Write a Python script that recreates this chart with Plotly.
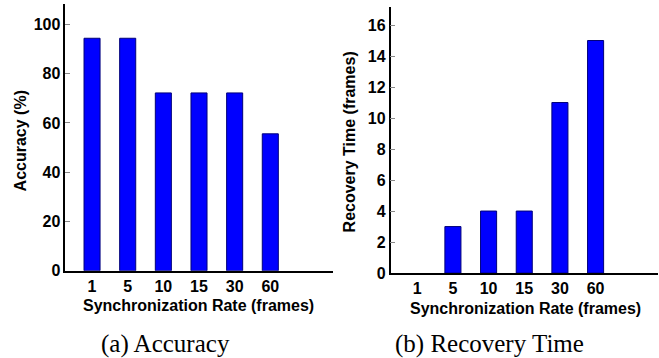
import plotly.graph_objects as go
from plotly.subplots import make_subplots

categories = ["1", "5", "10", "15", "30", "60"]
accuracy = [94.4, 94.4, 72.2, 72.2, 72.2, 55.6]
recovery = [0, 3, 4, 4, 11, 15]
acc_ticks = [0, 20, 40, 60, 80, 100]
rec_ticks = [0, 2, 4, 6, 8, 10, 12, 14, 16]

W, H = 659, 358
HR = 348  # effective rendered height used for paper-fraction placement
def px_x(a, b):
    return [a / W, b / W]
def px_y(top, bottom):
    return [(HR - bottom) / HR, min(1.0, (HR - top) / HR)]

fig = make_subplots(rows=1, cols=2)
def bars(vals):
    return dict(marker=dict(color="#0000FF",
                            line=dict(color="#00007a", width=[0 if v == 0 else 1 for v in vals])),
                showlegend=False)
fig.add_trace(go.Bar(x=categories, y=accuracy, **bars(accuracy)), row=1, col=1)
fig.add_trace(go.Bar(x=categories, y=recovery, **bars(recovery)), row=1, col=2)

font_b = dict(family="Arial, Liberation Sans, sans-serif", size=16, color="black", weight="bold")
xcommon = dict(type="category", range=[-0.75, 6.75], showline=True, linecolor="black", linewidth=1.5,
               ticks="", showgrid=False, zeroline=False, tickfont=font_b)
ycommon = dict(showline=True, linecolor="black", linewidth=1.5, ticks="inside", ticklen=5,
               tickcolor="#888888", tickwidth=1, showgrid=False, zeroline=False, tickfont=font_b)

fig.update_layout(
    width=W, height=H, margin=dict(l=0, r=0, t=0, b=0),
    paper_bgcolor="white", plot_bgcolor="white", bargap=0.55,
    xaxis=dict(domain=px_x(65.3, 332.7), **xcommon),
    xaxis2=dict(domain=px_x(390.5, 658), **xcommon),
    yaxis=dict(domain=px_y(4, 270), range=[0, 108.3], tickvals=acc_ticks, **ycommon),
    yaxis2=dict(domain=px_y(7, 272.3), range=[0, 17.16], tickvals=rec_ticks, **ycommon),
)

def ann(text, x, y, font, angle=0):
    fig.add_annotation(text=text, x=x / W, y=(HR - y) / HR, xref="paper", yref="paper",
                       showarrow=False, font=font, textangle=angle, xanchor="center", yanchor="middle")

ann("Accuracy (%)", 20, 141, font_b, -90)
ann("Recovery Time (frames)", 349, 142, font_b, -90)
ann("Synchronization Rate (frames)", 198, 305, font_b)
ann("Synchronization Rate (frames)", 525, 308, font_b)
font_c = dict(family="Times New Roman, Liberation Serif, serif", size=25, color="black")
ann("(a) Accuracy", 165, 343, font_c)
ann("(b) Recovery Time", 490, 343, font_c)

fig.write_html("out.html", config={"displayModeBar": False},
               post_script="document.body.style.margin='0';document.body.style.overflow='hidden';")
